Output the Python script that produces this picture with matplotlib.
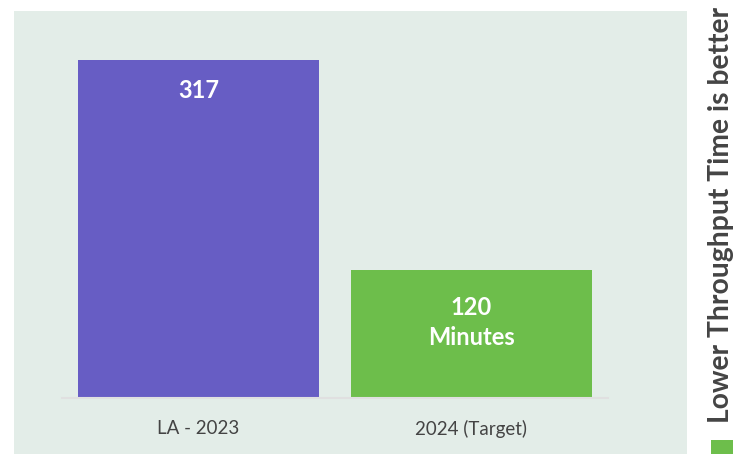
import matplotlib.pyplot as plt
from matplotlib.patches import Rectangle

# data
categories = ['LA - 2023', '2024 (Target)']
values = [317, 120]
bar_labels = [['317'], ['120', 'Minutes']]
bar_colors = ['#675DC4', '#6DBE4B']

W, H = 751, 454
fig = plt.figure(figsize=(W / 100, H / 100), dpi=100)
plt.rcParams['font.family'] = ['Lato', 'DejaVu Sans']

# panel background
bg = fig.add_axes([14 / W, 0, (687 - 14) / W, 1 - 11 / H], zorder=0)
bg.axis('off')
bg.add_patch(Rectangle((0, 0), 1, 1, transform=bg.transAxes,
                       facecolor='#E3EDE8', edgecolor='none'))

ax = fig.add_axes([62 / W, 1 - 398 / H, (608 - 62) / W, (398 - 60) / H], zorder=1)
ax.patch.set_alpha(0)
x = range(len(categories))
ax.bar(x, values, width=0.881, color=bar_colors, zorder=2)
ax.set_xlim(-0.5, 1.5)
ax.set_ylim(0, 317)

# label offsets below bar top, pixels
first_off = [29, 35]
for i, (v, lines) in enumerate(zip(values, bar_labels)):
    for j, line in enumerate(lines):
        ax.annotate(line, (i, v), xytext=(0, -(first_off[i] + 30 * j)),
                    textcoords='offset pixels', ha='center', va='center_baseline',
                    color='white', fontsize=17, fontweight='bold')

for s in ['top', 'right', 'left']:
    ax.spines[s].set_visible(False)
ax.spines['bottom'].set_color('#E0E0E0')
ax.spines['bottom'].set_linewidth(1.5)
ax.set_yticks([])
ax.set_xticks(list(x))
ax.set_xticklabels(categories, fontsize=13.5, color='#444444')
ax.tick_params(axis='x', length=0, pad=16)

# side legend
fig.patches.append(Rectangle((711 / W, 0), 22 / W, 14 / H,
                             transform=fig.transFigure, facecolor='#6DBE4B',
                             edgecolor='none'))
fig.text(721 / W, 1 - 423 / H, 'Lower Throughput Time is better',
         rotation=90, ha='center', va='bottom', fontsize=20.3,
         fontweight='bold', color='#444444')

fig.savefig('out.png', dpi=100)
